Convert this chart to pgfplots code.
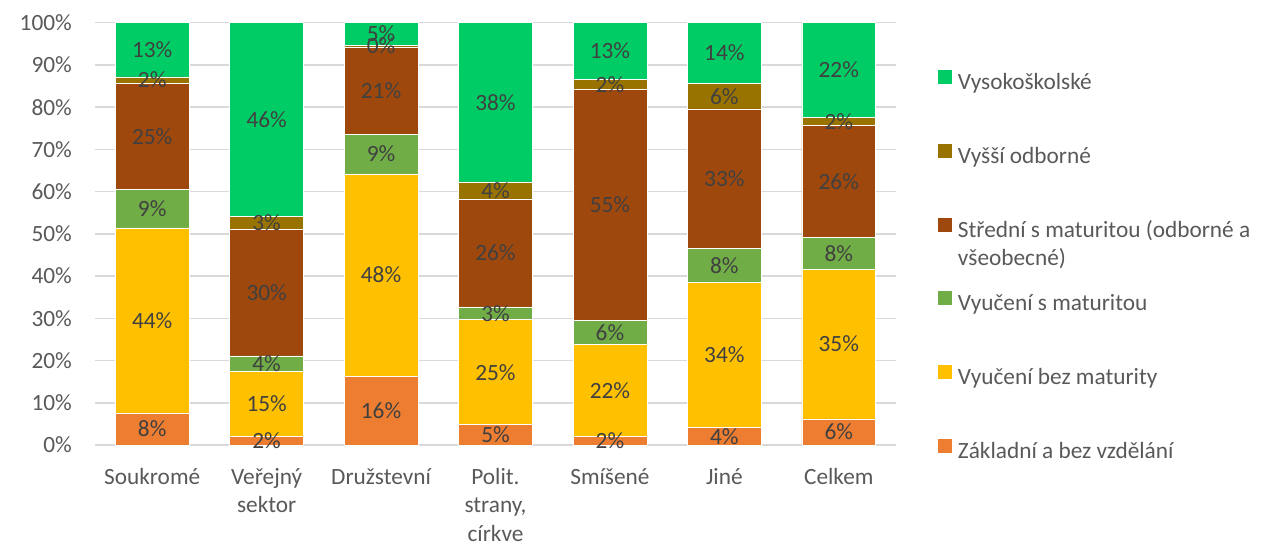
\documentclass[border=0pt]{standalone}
\usepackage{pgfplots}
\pgfplotsset{compat=1.18}
\usepackage{fontspec}
\setmainfont{Carlito}
\definecolor{cZak}{HTML}{ED7D31}
\definecolor{cBez}{HTML}{FFC000}
\definecolor{cSmat}{HTML}{70AD47}
\definecolor{cStr}{HTML}{9E480E}
\definecolor{cVyssi}{HTML}{997300}
\definecolor{cVs}{HTML}{00CC66}
\definecolor{gridc}{HTML}{D9D9D9}
\definecolor{tickc}{HTML}{595959}
\definecolor{labc}{HTML}{404040}
\newcommand\cf{\fontsize{23.3bp}{28.5bp}\selectfont}
\begin{document}
\begin{tikzpicture}
\begin{axis}[
  at={(0,0)}, anchor=south west,
  scale only axis, width=801bp, height=422.3bp,
  ybar stacked, bar width=0.645,
  xmin=-0.5, xmax=6.5, ymin=0, ymax=100,
  clip=false,
  /pgf/number format/assume math mode=true,
  xtick={0,1,2,3,4,5,6},
  xticklabels={Soukromé,
    {\begin{tabular}[t]{@{}c@{}}Veřejný\\sektor\end{tabular}},
    Družstevní,
    {\begin{tabular}[t]{@{}c@{}}Polit.\\strany,\\církve\end{tabular}},
    Smíšené, Jiné, Celkem},
  ytick={0,10,20,30,40,50,60,70,80,90,100},
  yticklabels={0\%,10\%,20\%,30\%,40\%,50\%,60\%,70\%,80\%,90\%,100\%},
  major tick length=0pt,
  axis line style={draw=none},
  tick style={draw=none},
  ymajorgrids,
  major grid style={draw=gridc, line width=1.5bp},
  xticklabel style={font=\cf, text=tickc, anchor=base, inner sep=0pt, yshift=-39.3bp},
  yticklabel style={font=\cf, text=tickc, anchor=east, inner sep=0pt, xshift=-23bp},
  nodes near coords={\pgfmathprintnumber[fixed,precision=0]{\pgfplotspointmeta}\%},
  every node near coord/.append style={font=\cf, text=labc, anchor=center, inner sep=0pt},
  legend cell align=left,
  reverse legend,
  legend image code/.code={\fill[#1,draw=none] (0bp,0bp) rectangle (14bp,14bp);},
  legend style={
    at={(1.0524,0.8887)}, anchor=north west,
    draw=none, fill=none, inner sep=0pt, outer sep=0pt,
    row sep=48.4bp, column sep=6bp,
    font=\cf, text=tickc,
    nodes={inner sep=0pt, text height=17bp, text depth=6bp},
  },
  every axis plot/.append style={draw=white, line width=0.5bp},
]
\addplot[fill=cZak] coordinates {(0,7.6) (1,2.0) (2,16.3) (3,4.8) (4,2.0) (5,4.1) (6,6.2)};
\addlegendentry{Základní a bez vzdělání}
\addplot[fill=cBez] coordinates {(0,43.8) (1,15.4) (2,47.9) (3,24.9) (4,21.8) (5,34.4) (6,35.4)};
\addlegendentry{Vyučení bez maturity}
\addplot[fill=cSmat] coordinates {(0,9.2) (1,3.7) (2,9.4) (3,3.0) (4,5.7) (5,8.0) (6,7.6)};
\addlegendentry{Vyučení s maturitou}
\addplot[fill=cStr] coordinates {(0,25.0) (1,29.9) (2,20.7) (3,25.6) (4,54.7) (5,33.1) (6,26.4)};
\addlegendentry{\parbox[t]{320bp}{Střední s maturitou (odborné a\\všeobecné)}}
\addplot[fill=cVyssi] coordinates {(0,1.6) (1,3.1) (2,0.4) (3,4.0) (4,2.4) (5,6.0) (6,2.0)};
\addlegendentry{Vyšší odborné}
\addplot[fill=cVs] coordinates {(0,12.8) (1,45.9) (2,5.3) (3,37.7) (4,13.4) (5,14.4) (6,22.4)};
\addlegendentry{Vysokoškolské}
\end{axis}
\pgfresetboundingbox
\useasboundingbox (-95bp,-99bp) rectangle (1168bp,445bp);
\end{tikzpicture}
\end{document}
